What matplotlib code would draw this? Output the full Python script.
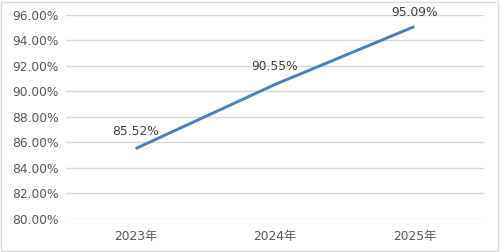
import matplotlib
matplotlib.use('Agg')
import matplotlib.pyplot as plt
from matplotlib.patches import Rectangle
from matplotlib.ticker import FuncFormatter

plt.rcParams['font.family'] = ['DejaVu Sans', 'Noto Sans CJK SC']

years = ['2023年', '2024年', '2025年']
rates = [85.52, 90.55, 95.09]
y_ticks = [80, 82, 84, 86, 88, 90, 92, 94, 96]

fig = plt.figure(figsize=(5, 2.52), dpi=100)
ax = fig.add_axes([0.132, 0.131, 0.836, 0.8095])

x = list(range(len(years)))
ax.plot(x, rates, color='#4a7ebb', linewidth=2.1, solid_capstyle='butt', zorder=3)

ax.set_xlim(-0.5, 2.5)
ax.set_ylim(80, 96)

# data labels above the points, kept inside the chart like Excel does
fig_h = fig.get_figheight() * fig.dpi
for xi, v in zip(x, rates):
    px, py = ax.transData.transform((xi, v))
    ty = min(py + 17.5, fig_h - 12)
    ax.text(px, ty, f'{v:.2f}%', transform=None, ha='center', va='center',
            fontsize=8.8, color='#404040')

ax.set_yticks(y_ticks)
ax.yaxis.set_major_formatter(FuncFormatter(lambda v, p: f'{v:.2f}%'))
ax.set_xticks(x)
ax.set_xticklabels(years)
ax.tick_params(axis='both', length=0, labelsize=8.8, labelcolor='#595959')
ax.tick_params(axis='x', pad=8)
ax.tick_params(axis='y', pad=5)
ax.grid(axis='y', color='#d9d9d9', linewidth=1.0)
ax.set_axisbelow(True)
for s in ax.spines.values():
    s.set_visible(False)

fig.patches.append(Rectangle((0.002, 0.004), 0.994, 0.99, transform=fig.transFigure,
                             fill=False, edgecolor='#d9d9d9', linewidth=1.0))

fig.savefig('out.png', dpi=100, facecolor='white')
